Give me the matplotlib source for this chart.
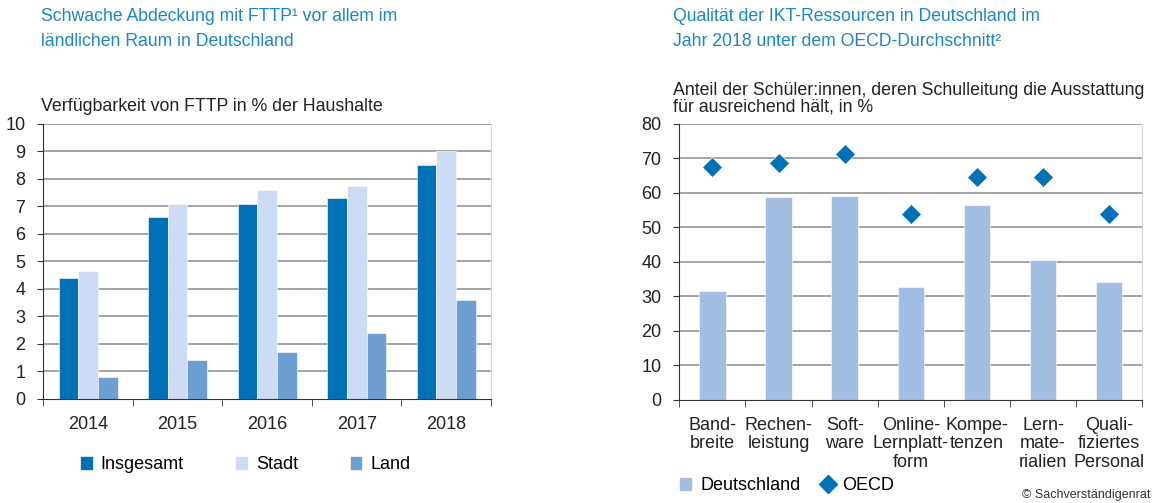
import numpy as np
import matplotlib
matplotlib.use("Agg")
from matplotlib import pyplot as plt
from matplotlib.patches import Patch
from matplotlib.lines import Line2D

plt.rcParams['font.family'] = ['Liberation Sans', 'DejaVu Sans']
plt.rcParams['font.size'] = 13

# left panel data
years = ['2014', '2015', '2016', '2017', '2018']
insgesamt = [4.4, 6.6, 7.1, 7.3, 8.5]
stadt = [4.65, 7.1, 7.6, 7.75, 9.0]
land = [0.8, 1.4, 1.7, 2.4, 3.6]

# right panel data
kategorien = ['Band-\nbreite', 'Rechen-\nleistung', 'Soft-\nware', 'Online-\nLernplatt-\nform',
              'Kompe-\ntenzen', 'Lern-\nmate-\nrialien', 'Quali-\nfiziertes\nPersonal']
deutschland = [31.6, 58.8, 59.1, 32.7, 56.6, 40.6, 34.3]
oecd = [67.5, 68.6, 71.4, 54.0, 64.6, 64.6, 54.0]

c_ins = '#0071b7'
c_stadt = '#cddcf4'
c_land = '#6c9fd2'
c_de = '#a3bde3'
c_title = '#1a87c9'
c_grid = '#8c8c8c'

fig = plt.figure(figsize=(11.53, 5.03), dpi=100)


def style_axes(ax, n, top, step):
    ax.set_xlim(-0.5, n - 0.5)
    ax.set_ylim(0, top)
    ax.set_yticks(np.arange(0, top + step / 2, step))
    for y in np.arange(step, top + step / 2, step):
        ax.axhline(y, color=c_grid, lw=1.1, zorder=0)
    ax.spines['top'].set_visible(False)
    ax.spines['right'].set_color('#d8d8d8')
    ax.spines['left'].set_color('#333333')
    ax.spines['bottom'].set_color('#333333')
    ax.set_xticks(np.arange(n))
    ax.set_xticks(np.arange(n + 1) - 0.5, minor=True)
    ax.tick_params(axis='x', which='major', length=0, pad=12, labelsize=13, colors='#222222')
    ax.tick_params(axis='x', which='minor', length=5, color='#333333')
    ax.tick_params(axis='y', length=4, pad=9, labelsize=13, colors='#222222', color='#333333')


# ---- left chart
ax1 = fig.add_axes([0.0376, 0.2068, 0.3882, 0.5467])
x = np.arange(len(years))
w = 0.22
ax1.bar(x - w, insgesamt, w, color=c_ins, edgecolor='white', lw=0.4, zorder=2)
ax1.bar(x, stadt, w, color=c_stadt, edgecolor='white', lw=0.4, zorder=2)
ax1.bar(x + w, land, w, color=c_land, edgecolor='white', lw=0.4, zorder=2)
style_axes(ax1, len(years), 10, 1)
ax1.set_xticklabels(years)

fig.text(0.0356, 0.985, 'Schwache Abdeckung mit FTTP¹ vor allem im\nländlichen Raum in Deutschland',
         color=c_title, fontsize=12.7, va='top', ha='left', linespacing=1.65)
fig.text(0.0356, 0.805, 'Verfügbarkeit von FTTP in % der Haushalte', fontsize=12.8, va='top', ha='left',
         color='#222222')

h1 = [Patch(color=c_ins), Patch(color=c_stadt), Patch(color=c_land)]
fig.legend(h1, ['Insgesamt', 'Stadt', 'Land'], loc='center left', bbox_to_anchor=(0.056, 0.076),
           ncol=3, frameon=False, fontsize=13, handlelength=0.6, handleheight=0.6,
           columnspacing=2.9, handletextpad=0.5)

# ---- right chart
ax2 = fig.add_axes([0.5892, 0.2048, 0.4015, 0.5487])
x2 = np.arange(len(kategorien))
ax2.bar(x2, deutschland, 0.4, color=c_de, edgecolor='white', lw=0.4, zorder=2)
ax2.plot(x2, oecd, 'D', color=c_ins, markersize=10, markeredgecolor='white', markeredgewidth=0.5, zorder=3)
style_axes(ax2, len(kategorien), 80, 10)
ax2.set_xticklabels(kategorien, linespacing=1.12)

fig.text(0.5835, 0.985, 'Qualität der IKT-Ressourcen in Deutschland im\nJahr 2018 unter dem OECD-Durchschnitt²',
         color=c_title, fontsize=12.7, va='top', ha='left', linespacing=1.65)
fig.text(0.5835, 0.837, 'Anteil der Schüler:innen, deren Schulleitung die Ausstattung\nfür ausreichend hält, in %',
         fontsize=12.8, va='top', ha='left', linespacing=1.0, color='#222222')

h2 = [Patch(color=c_de), Line2D([], [], marker='D', color=c_ins, ls='none', markersize=9)]
fig.legend(h2, ['Deutschland', 'OECD'], loc='center left', bbox_to_anchor=(0.576, 0.034),
           ncol=2, frameon=False, fontsize=13, handlelength=0.6, handleheight=0.6,
           columnspacing=1.2, handletextpad=0.5)

fig.text(0.998, 0.004, '© Sachverständigenrat', fontsize=9, ha='right', va='bottom', color='#333333')

fig.savefig('out.png', dpi=100)
